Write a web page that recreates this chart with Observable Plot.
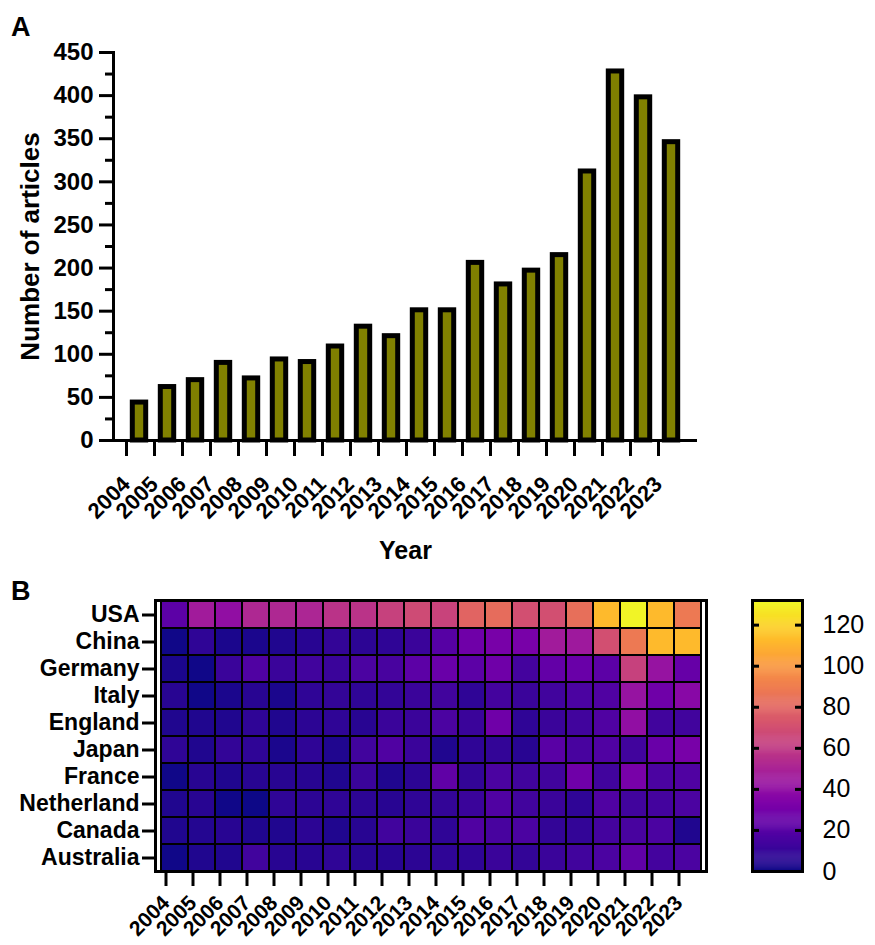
<!DOCTYPE html>
<html>
<head>
<meta charset="utf-8">
<script src="https://cdn.jsdelivr.net/npm/d3@7"></script>
<script src="https://cdn.jsdelivr.net/npm/@observablehq/plot@0.6"></script>
<style>
  html, body { margin: 0; padding: 0; background: #fff; }
  #root { position: relative; width: 875px; height: 945px; overflow: hidden; background: #fff; font-family: 'Liberation Sans', Arial, sans-serif; }
  .panel { position: absolute; }
  .letter { position: absolute; font-weight: bold; font-size: 27px; color: #000; }
</style>
</head>
<body>
<div id="root">
  <div class="letter" style="left:11px; top:12px;">A</div>
  <div class="letter" style="left:11px; top:576px;">B</div>
  <div id="panelA" class="panel" style="left:0; top:0;"></div>
  <div id="panelB" class="panel" style="left:0; top:580px;"></div>
  <div id="panelC" class="panel" style="left:740px; top:580px;"></div>
</div>
<script>
// ---------- DATA ----------
const years = ["2004","2005","2006","2007","2008","2009","2010","2011","2012","2013",
               "2014","2015","2016","2017","2018","2019","2020","2021","2022","2023"];
const articles = [44, 62, 70, 90, 72, 94, 91, 109, 132, 121, 151, 151, 206, 181, 197, 215, 312, 428, 398, 346];
const yTicksMajor = [0, 50, 100, 150, 200, 250, 300, 350, 400, 450];
const yTicksMinor = [25, 75, 125, 175, 225, 275, 325, 375, 425];

const countries = ["USA","China","Germany","Italy","England","Japan","France","Netherland","Canada","Australia"];
const usa        = [22, 46, 40, 52, 52, 51, 57, 57, 63, 68, 64, 79, 83, 70, 70, 84, 112, 130, 112, 88];
const china      = [1, 8, 3, 3, 4, 6, 9, 7, 8, 11, 20, 28, 31, 31, 46, 45, 70, 88, 112, 112];
const germany    = [3, 1, 11, 18, 11, 13, 11, 16, 15, 22, 26, 22, 28, 14, 24, 26, 22, 63, 42, 25];
const italy      = [6, 1, 3, 6, 3, 8, 9, 8, 9, 11, 13, 8, 14, 11, 13, 16, 18, 42, 28, 37];
const england    = [4, 4, 4, 8, 4, 7, 8, 6, 11, 11, 16, 11, 28, 8, 11, 13, 18, 40, 13, 13];
const japan      = [8, 4, 9, 8, 3, 8, 4, 13, 18, 11, 4, 8, 9, 6, 21, 15, 18, 13, 26, 31];
const france     = [1, 6, 4, 6, 6, 6, 4, 11, 4, 7, 23, 9, 16, 13, 13, 28, 13, 31, 16, 18];
const netherland = [4, 6, 1, 0, 8, 7, 8, 7, 6, 8, 9, 11, 18, 13, 11, 8, 18, 13, 14, 16];
const canada     = [4, 5, 6, 4, 4, 7, 4, 6, 13, 11, 8, 18, 15, 16, 9, 9, 14, 15, 16, 4];
const australia  = [1, 4, 4, 13, 6, 6, 8, 6, 6, 7, 8, 8, 11, 9, 11, 13, 16, 23, 14, 16];
const colorDomain = [0, 132];
const legendTicks = [0, 20, 40, 60, 80, 100, 120];

// ---------- BUILD TABLES ----------
const FONT = "'Liberation Sans', Arial, sans-serif";
const barData = years.map((y, i) => ({year: y, articles: articles[i]}));
const rows = [usa, china, germany, italy, england, japan, france, netherland, canada, australia];
const cells = [];
countries.forEach((c, r) => years.forEach((y, i) => cells.push({country: c, year: y, value: rows[r][i]})));

// ---------- PANEL A ----------
const chartA = Plot.plot({
  width: 875, height: 580,
  marginLeft: 113, marginRight: 178, marginTop: 52, marginBottom: 140,
  style: {fontFamily: FONT, color: "#000", background: "transparent", overflow: "visible"},
  x: {domain: years, padding: 0.42},
  y: {domain: [0, 450]},
  marks: [
    Plot.barY(barData, {x: "year", y: "articles", fill: "#808000", stroke: "#000", strokeWidth: 5, insetLeft: 1.3, insetRight: 1.3}),
    Plot.axisY({ticks: yTicksMajor, tickSize: 14, tickPadding: 6, strokeWidth: 3, fontSize: 24, fontWeight: "bold", label: null}),
    Plot.axisY({ticks: yTicksMinor, tickSize: 8, strokeWidth: 3, tickFormat: () => "", label: null}),
    Plot.axisX({tickSize: 16, tickRotate: -45, tickPadding: 24, dx: -13, strokeWidth: 3, fontSize: 22, fontWeight: "bold", label: null}),
    Plot.ruleY([0], {strokeWidth: 3}),
    Plot.frame({anchor: "left", strokeWidth: 3}),
    Plot.text(["Number of articles"], {frameAnchor: "left", textAnchor: "middle", rotate: -90, dx: -83, fontSize: 26, fontWeight: "bold"}),
    Plot.text(["Year"], {frameAnchor: "bottom", dy: 118, fontSize: 25, fontWeight: "bold"})
  ]
});
document.getElementById("panelA").appendChild(chartA);

// ---------- PANEL B (heatmap) ----------
const chartB = Plot.plot({
  width: 875, height: 365,
  marginLeft: 155, marginRight: 169, marginTop: 20, marginBottom: 74,
  style: {fontFamily: FONT, color: "#000", background: "transparent", overflow: "visible"},
  x: {domain: years, padding: 0},
  y: {domain: countries, padding: 0},
  color: {type: "linear", scheme: "plasma", domain: colorDomain},
  marks: [
    Plot.cell(cells, {x: "year", y: "country", fill: "value", stroke: "#000", strokeWidth: 2, inset: 0}),
    Plot.frame({stroke: "#000", strokeWidth: 3}),
    Plot.axisY({tickSize: 13, tickPadding: 3, strokeWidth: 3, fontSize: 23, fontWeight: "bold", label: null}),
    Plot.axisX({tickSize: 15, tickRotate: -45, tickPadding: 13, dx: -9, strokeWidth: 3, fontSize: 21, fontWeight: "bold", label: null})
  ]
});
document.getElementById("panelB").appendChild(chartB);

// ---------- PANEL C (vertical colour bar) ----------
const grad = d3.range(colorDomain[0], colorDomain[1], 0.5);
const chartC = Plot.plot({
  width: 135, height: 365,
  marginLeft: 12, marginRight: 73, marginTop: 20, marginBottom: 74,
  style: {fontFamily: FONT, color: "#000", background: "transparent", overflow: "visible"},
  x: {domain: [0, 1], axis: null},
  y: {domain: colorDomain},
  color: {type: "linear", scheme: "plasma", domain: colorDomain},
  marks: [
    Plot.rect(grad, {x1: 0, x2: 1, y1: d => d, y2: d => Math.min(d + 0.7, colorDomain[1]), fill: d => d + 0.25}),
    Plot.ruleY(legendTicks.slice(1), {y: d => d, x1: 0, x2: 0.14, strokeWidth: 3}),
    Plot.ruleY(legendTicks.slice(1), {y: d => d, x1: 0.86, x2: 1, strokeWidth: 3}),
    Plot.frame({stroke: "#000", strokeWidth: 3}),
    Plot.axisY({anchor: "right", ticks: legendTicks, tickSize: 0, tickPadding: 20, fontSize: 25, label: null})
  ]
});
document.getElementById("panelC").appendChild(chartC);
</script>
</body>
</html>
